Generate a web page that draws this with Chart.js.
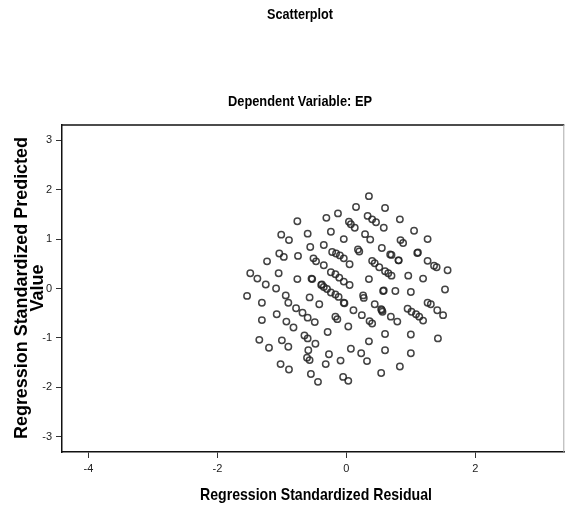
<!DOCTYPE html>
<html>
<head>
<meta charset="utf-8">
<title>Scatterplot</title>
<script src="https://cdn.jsdelivr.net/npm/chart.js@4.4.1/dist/chart.umd.min.js"></script>
<style>
  html, body { margin: 0; padding: 0; background: #fff; }
  #wrap { position: relative; width: 569px; height: 506px; }
</style>
</head>
<body>
<div id="wrap"><canvas id="chart"></canvas></div>
<script>
// Regression Standardized Residual (x) and Predicted Value (y)
const residuals = [
  -1.01, -1.04, -0.97, -1.23, -1.49, -1.38, -1.05, -1.25, -1.09, -0.94,
  -1.54, -1.31, -1.31, -1.08, -0.93, -1.35, -1.20, -1.00, -1.02,
  -0.76, -0.31, -0.60, -0.89, -0.24, -0.56, -0.35, -0.75, -0.51, -0.47,
  -0.35, -0.24, -0.76, -0.54, -0.39, -0.35, -0.30, -0.24, -0.57, -0.42,
  -0.90, -0.78, -0.68, -0.60, -0.49, -0.82, -0.29, -0.65, -0.60, -0.48,
  -0.90, -0.59, -0.27, -0.61, -0.57, -0.32, -0.89, -0.55, -0.44,
  0.35, 0.15, -0.13, 0.33, 0.40, 0.46, 0.04, 0.07, 0.13, -0.04,
  0.29, 0.37, 0.18, 0.20, -0.22, -0.16, -0.10, -0.04, 0.05, 0.40,
  0.44, -0.17, -0.11, -0.04, 0.05, 0.35, -0.17, -0.12, -0.04, 0.26,
  0.27, 0.44, 0.11, 0.24, -0.17, -0.14, 0.36, 0.40, 0.03, 0.35,
  0.07, 0.23, 0.32, -0.09, -0.05, 0.03,
  0.60, 0.83, 0.58, 1.05, 0.84, 0.88, 0.55, 0.68, 0.81, 1.10,
  0.51, 0.60, 0.65, 0.70, 0.96, 1.19, 0.57, 0.76, 1.00, 0.54,
  0.56, 0.69, 0.79, 0.95, 1.01, 1.08, 1.13, 1.19, 0.60, 1.00,
  0.60, 1.00, 0.83, 0.54,
  1.26, 1.26, 1.36, 1.40, 1.57, 1.53, 1.26, 1.31, 1.41, 1.50, 1.42,
  0.70, 0.81, 0.58, 1.11, -0.53, -0.38, -0.03, 0.55
];
const predicted = [
  1.09, 0.71, 0.64, 0.55, 0.31, 0.20, 0.31, 0.08, 0.00, -0.14,
  -0.15, -0.29, -0.64, -0.52, -0.67, -1.04, -1.20, -1.05, -1.53,
  1.36, 1.43, 1.11, 0.98, 1.15, 0.84, 0.88, 0.66, 0.61, 0.55,
  0.47, 0.33, 0.19, 0.20, 0.07, 0.03, -0.01, -0.08, -0.18, -0.32,
  -0.29, -0.40, -0.49, -0.59, -0.68, -0.79, -0.88, -0.95, -1.01, -1.12,
  -1.18, -1.25, -1.33, -1.40, -1.45, -1.53, -1.64, -1.73, -1.89,
  1.87, 1.65, 1.52, 1.47, 1.40, 1.34, 1.35, 1.30, 1.23, 1.00,
  1.10, 0.99, 0.79, 0.75, 0.74, 0.71, 0.67, 0.61, 0.49, 0.56,
  0.51, 0.29, 0.22, 0.14, 0.07, 0.19, -0.12, -0.17, -0.29, -0.14,
  -0.19, -0.32, -0.44, -0.54, -0.57, -0.62, -0.66, -0.71, -0.77, -1.07,
  -1.22, -1.31, -1.47, -1.46, -1.79, -1.87,
  1.63, 1.40, 1.23, 1.17, 0.98, 0.92, 0.82, 0.69, 0.57, 0.72,
  0.43, 0.35, 0.31, 0.26, 0.26, 0.20, -0.05, -0.05, -0.07, -0.42,
  -0.47, -0.57, -0.67, -0.41, -0.47, -0.52, -0.57, -0.65, -0.92, -0.93,
  -1.25, -1.31, -1.58, -1.71,
  1.00, 0.56, 0.46, 0.43, 0.37, -0.02, -0.29, -0.32, -0.44, -0.54, -1.01,
  0.68, 0.57, -0.04, 0.73, 0.19, 0.08, -0.30, -0.44
];

const xTicks = [-4, -2, 0, 2];
const yTicks = [-3, -2, -1, 0, 1, 2, 3];
const xRange = [-4.41, 3.38];
const yRange = [-3.31, 3.31];

const mainTitle = 'Scatterplot';
const subTitle = 'Dependent Variable: EP';
const xTitle = 'Regression Standardized Residual';
const yTitle = ['Regression Standardized Predicted', 'Value'];

const FONT = "'Liberation Sans', Arial, sans-serif";

const points = residuals.map((x, i) => ({ x: x, y: predicted[i] }));

// frame top/right edges and all titles, drawn the SPSS way
const framePlugin = {
  id: 'framePlugin',
  afterDraw(chart) {
    const ctx = chart.ctx;
    const a = chart.chartArea;
    ctx.save();
    ctx.lineWidth = 1.5;
    ctx.strokeStyle = '#111';
    ctx.beginPath();
    ctx.moveTo(a.left, a.top);
    ctx.lineTo(a.right, a.top);
    ctx.stroke();
    ctx.strokeStyle = '#aaa';
    ctx.lineWidth = 1;
    ctx.beginPath();
    ctx.moveTo(a.right - 0.5, a.top);
    ctx.lineTo(a.right - 0.5, a.bottom);
    ctx.stroke();

    ctx.fillStyle = '#000';
    ctx.textAlign = 'center';
    ctx.textBaseline = 'middle';
    ctx.font = 'bold 14px ' + FONT;
    ctx.fillText(mainTitle, 300, 15, 66);
    ctx.font = 'bold 15px ' + FONT;
    ctx.fillText(subTitle, 300, 102, 144);
    ctx.font = 'bold 17px ' + FONT;
    ctx.fillText(xTitle, 316, 495, 232);

    // rotated two-line y title
    ctx.translate(22, 288);
    ctx.rotate(-Math.PI / 2);
    ctx.font = 'bold 18px ' + FONT;
    ctx.fillText(yTitle[0], 0, 0, 302);
    ctx.fillText(yTitle[1], 0, 16);
    ctx.restore();
  }
};

new Chart(document.getElementById('chart'), {
  type: 'scatter',
  data: {
    datasets: [{
      data: points,
      pointStyle: 'circle',
      pointRadius: 3.2,
      pointHoverRadius: 3.2,
      pointBorderWidth: 1.5,
      pointBackgroundColor: 'rgba(0,0,0,0)',
      pointBorderColor: 'rgba(35,35,35,0.85)'
    }]
  },
  options: {
    responsive: true,
    maintainAspectRatio: false,
    animation: false,
    layout: { padding: { top: 125, right: 1, left: 0, bottom: 0 } },
    plugins: {
      legend: { display: false },
      title: { display: false },
      tooltip: { enabled: false }
    },
    scales: {
      x: {
        type: 'linear',
        min: xRange[0],
        max: xRange[1],
        afterBuildTicks: s => { s.ticks = xTicks.map(v => ({ value: v })); },
        afterFit: s => { s.height = 54; },
        border: { display: true, color: '#111', width: 1.5 },
        grid: { drawOnChartArea: false, drawTicks: true, tickLength: 6, color: '#333', lineWidth: 1 },
        ticks: { color: '#222', font: { family: FONT, size: 11 }, padding: 4, maxRotation: 0 }
      },
      y: {
        type: 'linear',
        min: yRange[0],
        max: yRange[1],
        afterBuildTicks: s => { s.ticks = yTicks.map(v => ({ value: v })); },
        afterFit: s => { s.width = 62; },
        border: { display: true, color: '#111', width: 1.5 },
        grid: { drawOnChartArea: false, drawTicks: true, tickLength: 6, color: '#333', lineWidth: 1 },
        ticks: { color: '#222', font: { family: FONT, size: 11 }, padding: 4 }
      }
    }
  },
  plugins: [framePlugin]
});
</script>
</body>
</html>
